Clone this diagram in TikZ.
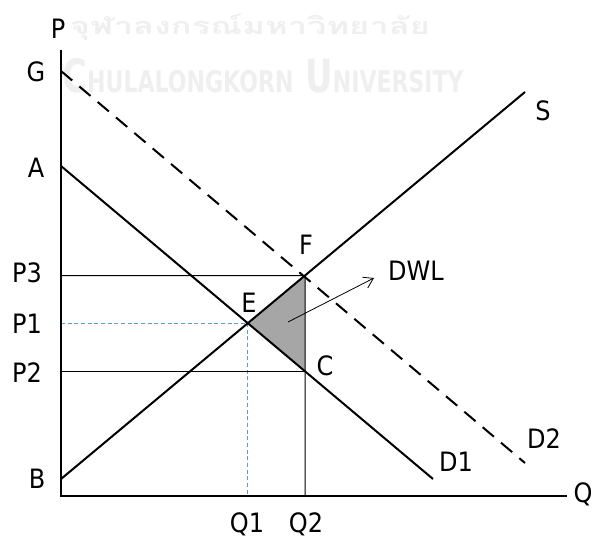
\documentclass[tikz,border=0pt]{standalone}
\usepackage{fontspec}
\usepackage{graphicx}
\setmainfont{DejaVu Sans}[FakeStretch=0.9]
\newfontfamily\thaifont[Script=Thai]{Loma}
\usetikzlibrary{arrows.meta,positioning,calc}
\definecolor{dwlgray}{HTML}{A6A6A6}
\definecolor{guideblue}{HTML}{5B9BD5}
\definecolor{markgray}{HTML}{EFEFEF}

\begin{document}
\begin{tikzpicture}[x=0.75pt, y=-0.75pt, every node/.style={font=\fontsize{20}{22}\selectfont, inner sep=0pt}]
  \useasboundingbox (0,0) rectangle (592,538);
  % faint watermark
  \node[text=markgray] (wmthai) at (250,27) {\resizebox*{270pt}{20pt}{\thaifont\bfseries จุฬาลงกรณ์มหาวิทยาลัย}};
  \node[text=markgray] (wmeng) at (263,76) {\resizebox*{301pt}{26pt}{\bfseries C{\fontsize{13}{13}\selectfont HULALONGKORN} U{\fontsize{13}{13}\selectfont NIVERSITY}}};
  % axes and curve ends
  \coordinate (o) at (61,496);
  \coordinate (ytop) at (61,50);
  \coordinate (xend) at (567,496);
  \coordinate (g) at (61,71);
  \coordinate (a) at (61,166);
  \coordinate (b) at (61,479);
  \coordinate (send) at (525,92);
  \coordinate (d1end) at (433,479);
  \coordinate (d2end) at (525,463);
  \coordinate (q2) at (305,496);
  \coordinate (q2up) at (305,0);
  \coordinate (e) at (intersection of a--d1end and b--send);
  \coordinate (f) at (intersection of b--send and q2--q2up);
  \coordinate (c) at (intersection of a--d1end and q2--q2up);
  \coordinate (p3) at (ytop |- f);
  \coordinate (p1) at (ytop |- e);
  \coordinate (p2) at (ytop |- c);
  \coordinate (q1) at (o -| e);
  % deadweight loss
  \fill[dwlgray] (e) -- (f) -- (c) -- cycle;
  \draw[guideblue, line width=0.8pt, dash pattern=on 3pt off 2pt] (p1) -- (e) -- (q1);
  \draw[line width=0.75pt] (p3) -- (f) -- (q2);
  \draw[line width=0.75pt] (p2) -- (c);
  \draw[line width=1.5pt] (a) -- (d1end);
  \draw[line width=1.5pt] (b) -- (send);
  \draw[line width=1.5pt, dash pattern=on 11pt off 7pt] (g) -- (d2end);
  \draw[line width=2.2pt] (ytop) -- (o) -- (xend);
  \node (dwl) at (416,271) {DWL};
  \coordinate (tail) at (288,322);
  \coordinate (head) at (374,278);
  \draw[-{Straight Barb[length=7pt, width=9pt]}, line width=0.6pt] (tail) -- (head);
  % labels
  \node (lp) at (58,29) {P};
  \node (lg) at (36,72) {G};
  \node (la) at (36,168) {A};
  \node (lp3) at (27,273) {P3};
  \node (lp1) at (27,324) {P1};
  \node (lp2) at (27,373) {P2};
  \node (lb) at (37,479) {B};
  \node (lq1) at (247,524) {Q1};
  \node (lq2) at (306,524) {Q2};
  \node (lq) at (583,494) {Q};
  \node (le) at (249,303) {E};
  \node (lf) at (306,245) {F};
  \node (lc) at (325,366) {C};
  \node (ld1) at (456,462) {D1};
  \node (ld2) at (544,439) {D2};
  \node (ls) at (543,111) {S};
\end{tikzpicture}
\end{document}
